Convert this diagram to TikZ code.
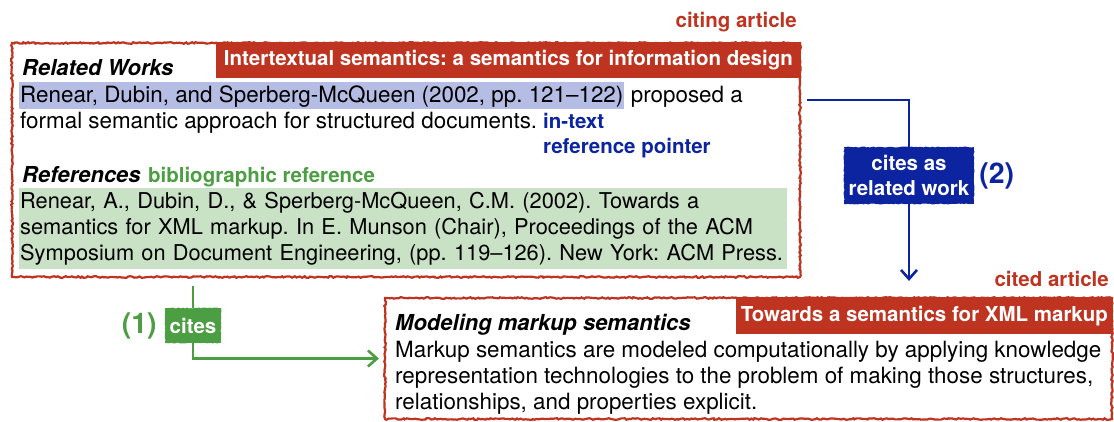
\documentclass[tikz,border=0pt]{standalone}
\usepackage{fontspec}
\setmainfont{TeX Gyre Heros}
\usetikzlibrary{arrows.meta,calc,decorations.pathmorphing,positioning}
\definecolor{artred}{RGB}{190,52,33}
\definecolor{citeblue}{RGB}{12,36,160}
\definecolor{citegreen}{RGB}{76,158,66}
\definecolor{hlblue}{RGB}{182,189,228}
\definecolor{hlgreen}{RGB}{201,226,197}
\frenchspacing
\tikzset{
	roughbox/.style={draw=artred, line width=2.2pt, decorate, decoration={random steps, segment length=2pt, amplitude=0.8pt}},
	titlebar/.style={fill=artred, text=white, inner sep=0pt, font=\fontsize{20.5}{25}\selectfont\bfseries},
	bodytext/.style={inner sep=0pt, font=\fontsize{22.4}{26}\selectfont},
	heading/.style={inner sep=0pt, font=\fontsize{22}{26}\selectfont\bfseries\itshape},
	tag/.style={inner sep=0pt, font=\fontsize{20.5}{25}\selectfont\bfseries},
	bignum/.style={inner sep=0pt, font=\fontsize{28.5}{30}\selectfont\bfseries},
	linkbox/.style={text=white, inner sep=0pt, align=center, decorate, decoration={random steps, segment length=2pt, amplitude=0.5pt}, font=\fontsize{20.5}{25}\selectfont\bfseries},
	linkarrow/.style={line width=2.6pt, -{Straight Barb[length=9pt,width=16pt]}},
	linkline/.style={line width=2.6pt},
}
\begin{document}
\begin{tikzpicture}[x=1pt, y=-1pt]
	\pgfmathsetseed{7}
	\useasboundingbox (0,0) rectangle (1114,421);
	
	%%%%% CITING ARTICLE %%%%%
	\node[roughbox, minimum width=788pt, minimum height=234pt] (citing) at (406,160) {};
	\node[titlebar, anchor=north east, minimum width=585pt, minimum height=36pt] (citingtitle) at (citing.north east) {Intertextual semantics: a semantics for information design};
	\node[tag, text=artred, anchor=base east] (citinglabel) at (797,27) {citing article};
	
	\node[heading, anchor=base west] (relworks) at (22,75) {Related Works};
	\node[bodytext, anchor=base west, fill=hlblue, inner xsep=1pt, text height=20pt, text depth=7pt] (pointer) at (19,102) {Renear, Dubin, and Sperberg-McQueen (2002, pp. 121--122)};
	\node[bodytext, anchor=base west] (proposed) at ([xshift=6pt]pointer.base east) {proposed a};
	\node[bodytext, anchor=base west] (formal) at (20,128) {formal semantic approach for structured documents.};
	\node[tag, text=citeblue, anchor=base west] (intext) at (543,128) {in-text};
	\node[tag, text=citeblue, anchor=base west] (pointerlabel) at (543,153) {reference pointer};
	
	\node[heading, anchor=base west] (refs) at (22,182) {References};
	\node[tag, text=citegreen, anchor=base west] (biblabel) at ([xshift=7pt]refs.base east) {bibliographic reference};
	\node[bodytext, font=\fontsize{21.8}{26}\selectfont, anchor=north west, fill=hlgreen, inner xsep=1pt, text width=766pt, align=left] (bibref) at (19,188) {\rule{0pt}{20pt}\mbox{Renear, A., Dubin, D., \& Sperberg-McQueen, C.M. (2002). Towards a}\\\mbox{semantics for XML markup. In E. Munson (Chair), Proceedings of the ACM}\\\mbox{Symposium on Document Engineering, (pp. 119--126). New York: ACM Press.}\rule[-9pt]{0pt}{9pt}};
	
	%%%%% CITED ARTICLE %%%%%
	\node[roughbox, minimum width=727pt, minimum height=121pt] (cited) at (748.5,358.5) {};
	\node[titlebar, anchor=north east, minimum width=377pt, minimum height=37pt] (citedtitle) at (cited.north east) {Towards a semantics for XML markup};
	\node[tag, text=artred, anchor=base east] (citedlabel) at (1109,286) {cited article};
	
	\node[heading, anchor=base west] (modeling) at (395,330) {Modeling markup semantics};
	\node[bodytext, anchor=north west, align=left] (abstract) at (395,337) {\rule{0pt}{20pt}Markup semantics are modeled computationally by applying knowledge\\representation technologies to the problem of making those structures,\\relationships, and properties explicit.};
	
	%%%%% LINKS %%%%%
	\node[linkbox, fill=citeblue, minimum width=130pt, minimum height=57pt] (relwork) at (909,175.5) {cites as\\related work};
	\node[bignum, text=citeblue, right=5pt of relwork] (two) {(2)};
	\draw[linkline, draw=citeblue] ([xshift=6pt,yshift=2pt]citing.east |- pointer.base) -| (relwork.north);
	\draw[linkarrow, draw=citeblue] (relwork.south) -- ([yshift=16pt]relwork.south |- cited.north);
	
	\node[linkbox, fill=citegreen, minimum width=56pt, minimum height=35pt] (cites) at (193,325.5) {cites};
	\node[bignum, text=citegreen, left=8pt of cites] (one) {(1)};
	\draw[linkline, draw=citegreen] ([yshift=-8pt]citing.south -| cites.north) -- (cites.north);
	\draw[linkarrow, draw=citegreen] (cites.south) |- ([xshift=-5pt]cited.west);
	
\end{tikzpicture}
\end{document}
